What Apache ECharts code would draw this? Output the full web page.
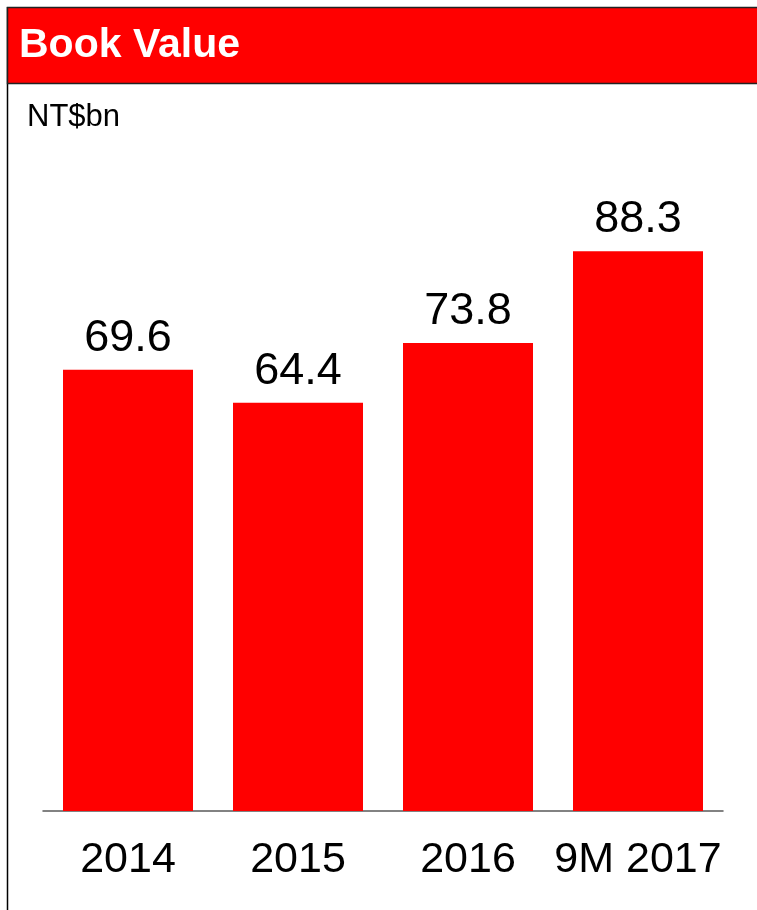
<!DOCTYPE html>
<html lang="en">
<head>
    <meta charset="UTF-8">
    <title>Book Value</title>
    <script src="https://cdn.jsdelivr.net/npm/echarts@6/dist/echarts.min.js"></script>
    <style>
        body{margin:0;background:#fff;}
    </style>
</head>
<body>
    <div id="chart1" style="width:757px;height:910px;"></div>
    <script>
        var myCharts=echarts.init(document.getElementById("chart1"))
        var categories=["2014","2015","2016","9M 2017"]
        var bookValue=[69.6,64.4,73.8,88.3]
        var font="'Liberation Sans', Arial, sans-serif"
        var option={
            animation:false,
            textStyle:{fontFamily:font},
            graphic:[
                {//外框左边线
                    type:"line",
                    shape:{x1:7.5,y1:7,x2:7.5,y2:910},
                    style:{stroke:"#000",lineWidth:1.5}
                },
                {//标题栏
                    type:"rect",
                    shape:{x:7.5,y:7.5,width:760,height:76},
                    style:{fill:"#FF0000",stroke:"#222",lineWidth:1.5}
                },
                {
                    type:"text",
                    left:19,
                    top:25,
                    style:{text:"Book Value",fill:"#fff",font:"bold 41px "+font}
                },
                {
                    type:"text",
                    left:27,
                    top:102,
                    style:{text:"NT$bn",fill:"#000",font:"31px "+font}
                }
            ],
            grid:{left:43,right:34,top:177,bottom:99},
            xAxis:{
                type:"category",
                data:categories,
                axisTick:{show:false},
                axisLine:{lineStyle:{color:"#595959",width:1.5}},
                axisLabel:{color:"#000",fontSize:43,margin:28,interval:0,fontFamily:font}
            },
            yAxis:{
                type:"value",
                min:0,
                max:100,
                show:false,
                splitLine:{show:false}
            },
            series:[
                {
                    name:"Book Value",
                    type:"bar",
                    data:bookValue,
                    barWidth:130,
                    itemStyle:{color:"#FF0000"},
                    label:{
                        show:true,
                        position:"top",
                        distance:9,
                        color:"#000",
                        fontSize:45,
                        fontFamily:font,
                        formatter:function(p){return p.value.toFixed(1)}
                    }
                }
            ]
        }
        myCharts.setOption(option)
    </script>
</body>
</html>
